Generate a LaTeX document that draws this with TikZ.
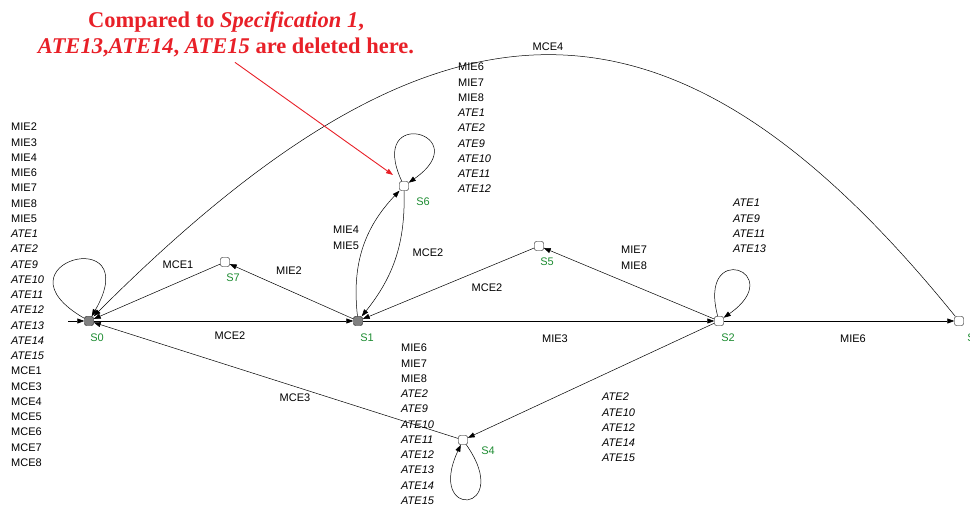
\documentclass[tikz,border=0pt]{standalone}
\usepackage{fontspec}
\setmainfont{Liberation Sans}
\newfontfamily\notefont{Liberation Serif}
\usetikzlibrary{arrows.meta}
\definecolor{notered}{RGB}{232,32,40}
\definecolor{stategreen}{RGB}{30,140,50}
\definecolor{stategray}{RGB}{128,128,128}

\begin{document}
\begin{tikzpicture}[x=1pt, y=1pt,
			>={Triangle[length=7pt,width=5pt]},
			every node/.style={font=\fontsize{11}{15.25}\selectfont},
			state/.style={draw, rounded corners=2pt, minimum size=9pt, inner sep=0pt, fill=white},
			graystate/.style={state, fill=stategray},
			sname/.style={text=stategreen, inner sep=0pt},
			lbl/.style={align=left, inner sep=0pt}]
			\useasboundingbox (0,0) rectangle (970,510);
			\node [graystate] (s0) at (89,189) {};
			\node [state] (s7) at (225,248) {};
			\node [graystate] (s1) at (358,189) {};
			\node [state] (s6) at (404,324) {};
			\node [state] (s5) at (539,264) {};
			\node [state] (s2) at (719,189) {};
			\node [state] (s3) at (959,189) {};
			\node [state] (s4) at (463,70) {};
			\coordinate (entry) at (68,189);
			\node [sname] (s0name) at (97,172) {S0};
			\node [sname] (s7name) at (233,232) {S7};
			\node [sname] (s1name) at (367,172) {S1};
			\node [sname] (s6name) at (423,308) {S6};
			\node [sname] (s5name) at (547,248) {S5};
			\node [sname] (s2name) at (728,172) {S2};
			\node [sname] (s3name) at (974,172) {S3};
			\node [sname] (s4name) at (488,59) {S4};
			\node [lbl, anchor=north west] (s0loop) at (11,387) {MIE2\\MIE3\\MIE4\\MIE6\\MIE7\\MIE8\\MIE5\\
				\textit{ATE1}\\\textit{ATE2}\\\textit{ATE9}\\\textit{ATE10}\\\textit{ATE11}\\\textit{ATE12}\\
				\textit{ATE13}\\\textit{ATE14}\\\textit{ATE15}\\MCE1\\MCE3\\MCE4\\MCE5\\MCE6\\MCE7\\MCE8};
			\node [lbl, anchor=north west] (s6loop) at (458,447) {MIE6\\MIE7\\MIE8\\
				\textit{ATE1}\\\textit{ATE2}\\\textit{ATE9}\\\textit{ATE10}\\\textit{ATE11}\\\textit{ATE12}};
			\node [lbl, anchor=north west] (s2loop) at (733,311) {\textit{ATE1}\\\textit{ATE9}\\\textit{ATE11}\\\textit{ATE13}};
			\node [lbl, anchor=north west] (s4loop) at (401,166) {MIE6\\MIE7\\MIE8\\
				\textit{ATE2}\\\textit{ATE9}\\\textit{ATE10}\\\textit{ATE11}\\\textit{ATE12}\\\textit{ATE13}\\\textit{ATE14}\\\textit{ATE15}};
			\node [lbl, anchor=north west] (s2s4) at (602,117) {\textit{ATE2}\\\textit{ATE10}\\\textit{ATE12}\\\textit{ATE14}\\\textit{ATE15}};
			\node [lbl, anchor=north west] (s1s6) at (333,284) {MIE4\\MIE5};
			\node [lbl, anchor=north west] (s2s5) at (621,264) {MIE7\\MIE8};
			\node (s7s0) at (178,245) {MCE1};
			\node (s1s7) at (289,239) {MIE2};
			\node (s0s1) at (230,174) {MCE2};
			\node (s6s1) at (428,257) {MCE2};
			\node (s5s1) at (487,222) {MCE2};
			\node (s1s2) at (555,171) {MIE3};
			\node (s2s3) at (853,171) {MIE6};
			\node (s3s0) at (548,463) {MCE4};
			\node (s4s0) at (295,112) {MCE3};
			\node [anchor=north, align=center, text=notered,
					font=\notefont\bfseries\fontsize{22.5}{26}\selectfont] (note) at (226,502)
				{Compared to \textit{Specification 1},\\\textit{ATE13},\textit{ATE14}, \textit{ATE15} are deleted here.};
			\coordinate (notetip) at (393,335);
			\path [->, line width=0.5pt]
				(entry) edge [] (s0)
				(s0) edge [] (s1)
				(s1) edge [] (s2)
				(s2) edge [] (s3)
				(s1) edge [] (s7)
				(s7) edge [] (s0)
				(s5) edge [] (s1)
				(s2) edge [] (s5)
				(s2) edge [] (s4)
				(s4) edge [] (s0)
				(s1) edge [bend left=25] (s6)
				(s6) edge [bend left=20] (s1)
				(s3) edge [out=129, in=45, out distance=448pt, in distance=492pt] (s0)
				(s0) edge [out=150, in=60, distance=110pt] (s0)
				(s6) edge [out=115, in=35, distance=85pt] (s6)
				(s2) edge [out=105, in=35, distance=80pt] (s2)
				(s4) edge [out=-55, in=-115, distance=84pt] (s4);
			\draw [->, notered, line width=0.9pt] ([xshift=9pt,yshift=-2pt]note.south) -- (notetip);
		\end{tikzpicture}
\end{document}
